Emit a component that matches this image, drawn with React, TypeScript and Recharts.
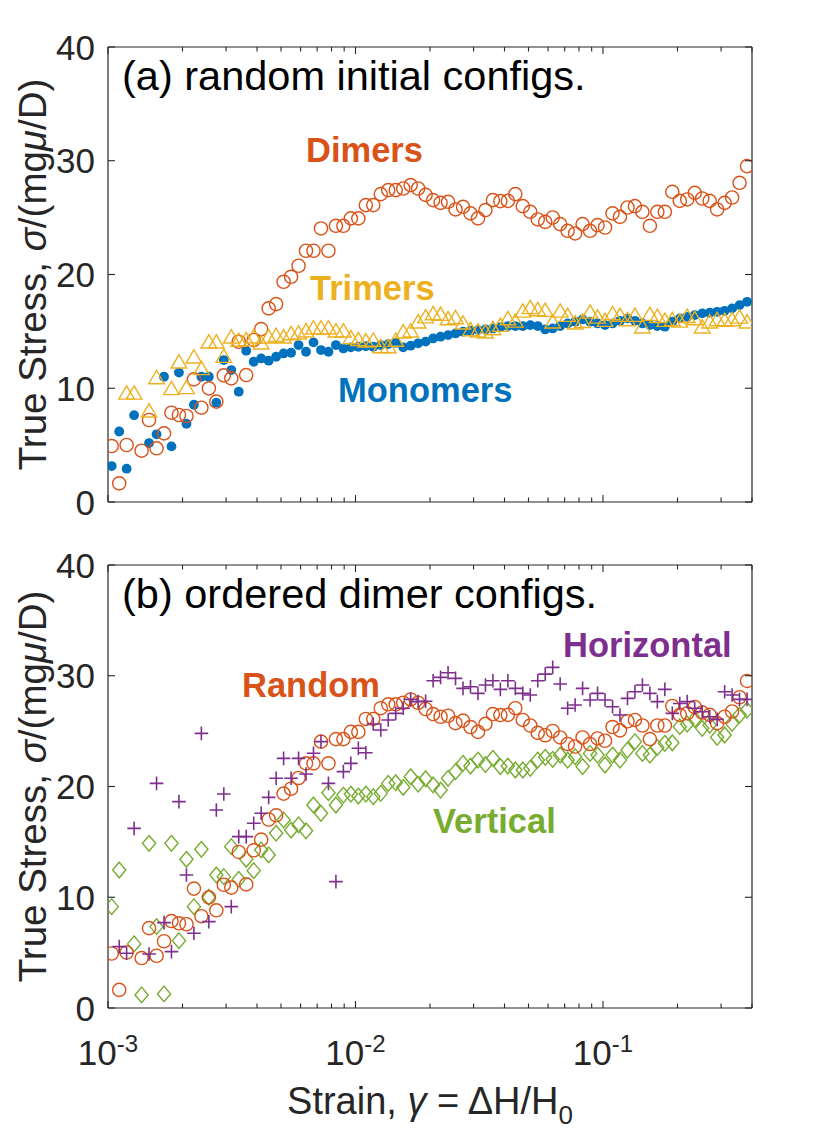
import React from 'react';
import { ScatterChart, Scatter, XAxis, YAxis } from 'recharts';

// strain values (shared sampling grid)
const STRAIN = [
  0.001035, 0.001110, 0.001189, 0.001275, 0.001367, 0.001465, 0.001571, 0.001684, 0.001805, 0.001935,
  0.002075, 0.002224, 0.002384, 0.002556, 0.002740, 0.002937, 0.003149, 0.003375, 0.003618, 0.003879,
  0.004158, 0.004458, 0.004779, 0.005123, 0.005492, 0.005887, 0.006311, 0.006765, 0.007253, 0.007775,
  0.008335, 0.008935, 0.009578, 0.01027, 0.01101, 0.01180, 0.01265, 0.01356, 0.01454, 0.01559,
  0.01671, 0.01791, 0.01920, 0.02059, 0.02207, 0.02366, 0.02536, 0.02719, 0.02915, 0.03125,
  0.03350, 0.03591, 0.03849, 0.04127, 0.04424, 0.04742, 0.05084, 0.05450, 0.05842, 0.06263,
  0.06714, 0.07197, 0.07716, 0.08271, 0.08867, 0.09506, 0.1019, 0.1093, 0.1171, 0.1256,
  0.1346, 0.1443, 0.1547, 0.1658, 0.1778, 0.1906, 0.2043, 0.2190, 0.2348, 0.2517,
  0.2698, 0.2892, 0.3101, 0.3324, 0.3563, 0.3820,
];

// panel (a) dimers, also the "Random" series of panel (b)
const DIMERS = [
  4.92, 1.64, 5.01, null, 4.51, 7.21, 4.72, 6.03, 7.85, 7.65,
  7.56, 10.78, 8.29, 9.99, 8.82, 11.13, 10.87, 14.09, 11.16, 14.24,
  15.2, 17.02, 17.4, 19.36, 19.8, 20.77, 22.09, 22.09, 24.05, 22.09,
  24.28, 24.28, 24.93, 24.93, 26.1, 26.1, 27.07, 27.42, 27.42, 27.56,
  27.86, 27.56, 27.0, 26.54, 26.3, 26.39, 25.72, 25.95, 25.37, 24.93,
  25.66, 26.54, 26.45, 26.47, 27.07, 26.01, 25.51, 24.84, 24.63, 25.01,
  24.43, 23.84, 23.61, 24.43, 23.84, 24.34, 24.13, 25.37, 25.07, 25.89,
  26.01, 25.51, 24.28, 25.51, 25.51, 27.27, 26.47, 26.6, 27.18, 26.68,
  26.47, 25.72, 26.3, 26.77, 28.06, 29.53,
];

const MONOMERS = [
  3.16, 6.2, 2.93, 7.63, null, 5.18, 5.95, 11.01, 4.89, 11.38,
  6.88, 8.55, 11.01, 11.01, 8.73, 12.48, 11.6, 9.7, 13.3, 12.33,
  12.62, 12.42, 12.77, 13.06, 13.12, 13.8, 13.21, 14.03, 13.36, 13.21,
  13.8, 13.5, 13.6, 13.65, 13.7, 13.65, 13.8, 13.88, 14.0, 13.6,
  13.74, 13.95, 14.1, 14.38, 14.53, 14.67, 14.82, 14.97, 15.06, 15.11,
  15.17, 15.26, 15.35, 15.47, 15.47, 15.47, 15.55, 15.47, 15.17, 15.26,
  15.47, 15.7, 15.85, 16.05, 15.85, 15.7, 15.55, 15.7, 15.93, 16.14,
  15.93, 15.7, 15.55, 15.47, 15.41, 15.85, 16.14, 16.28, 16.43, 16.58,
  16.64, 16.72, 16.81, 17.02, 17.31, 17.6,
];

const TRIMERS = [
  null, null, 9.6, 9.6, null, 8.03, 10.95, null, 9.99, 12.33,
  10.08, 12.77, 11.75, 14.09, 14.09, 12.83, 14.53, 14.24, 14.3, 14.53,
  14.0, 14.53, 14.67, 14.53, 14.82, 14.88, 15.06, 15.32, 15.32, 15.32,
  15.06, 15.06, 14.47, 14.3, 14.18, 14.24, 13.68, 13.68, 14.24, 14.97,
  15.06, 15.85, 16.3, 16.58, 16.52, 16.14, 16.23, 15.76, 15.17, 15.06,
  14.97, 15.26, 15.55, 16.14, 15.93, 16.81, 17.11, 16.93, 16.87, 15.85,
  16.81, 16.43, 15.76, 15.9, 16.72, 16.28, 15.99, 16.58, 16.43, 16.05,
  16.43, 15.41, 16.52, 16.34, 15.99, 16.05, 15.93, 16.34, 16.14, 15.41,
  15.85, 16.05, 15.99, 16.05, 16.28, 15.85,
];

const HORIZONTAL = [
  null, 5.54, 4.94, 16.22, null, 4.88, 20.28, 7.71, 5.09, 18.63,
  12.01, 6.75, 24.8, 7.8, 17.88, 19.32, 9.15, 15.47, 15.47, 16.68,
  17.58, 19.02, 20.74, 22.54, 20.74, 22.54, 21.13, 23.0, 24.05, 20.28,
  11.41, 21.34, 22.09, 23.45, 23.05, 25.64, 25.1, 26.0, 26.6, 27.06,
  27.87, 27.66, 27.7, 29.55, 29.85, 30.27, 29.76, 28.86, 29.01, 28.41,
  29.16, 29.55, 28.77, 29.55, 28.86, 28.41, 28.26, 29.55, 30.15, 30.76,
  29.25, 27.06, 27.36, 28.86, 27.81, 28.41, 27.81, 27.2, 26.45, 27.96,
  28.56, 29.16, 28.41, 27.66, 28.77, 26.6, 27.5, 27.66, 27.06, 26.75,
  26.3, 26.06, 28.56, 28.26, 27.87, 27.87,
];

const VERTICAL = [
  9.15, 12.46, null, 5.79, 1.18, 14.87, 7.35, 1.27, 14.87, 6.08,
  13.43, 9.15, 14.33, 10.0, 12.01, 11.86, 14.57, 11.62, 13.43, 12.4,
  14.27, 13.82, 15.78, 16.98, 16.07, 16.53, 16.0, 18.33, 17.58, 19.44,
  18.33, 19.23, 19.32, 19.14, 19.32, 19.08, 19.38, 20.28, 20.34, 19.93,
  20.88, 20.22, 20.7, 20.14, 19.68, 20.74, 21.34, 22.09, 21.85, 22.39,
  21.98, 22.54, 21.8, 21.85, 21.49, 21.49, 21.64, 22.39, 22.63, 22.45,
  22.84, 22.39, 22.69, 21.8, 22.99, 22.84, 21.94, 22.84, 22.39, 23.29,
  24.05, 22.99, 22.84, 23.53, 23.9, 23.95, 25.4, 25.64, 26.06, 25.25,
  25.54, 24.44, 24.65, 25.7, 26.45, 26.9,
];

const X_DOMAIN = [0.001, 0.4];
const X_TICKS = [
  0.001, 0.002, 0.003, 0.004, 0.005, 0.006, 0.007, 0.008, 0.009,
  0.01, 0.02, 0.03, 0.04, 0.05, 0.06, 0.07, 0.08, 0.09,
  0.1, 0.2, 0.3, 0.4,
];
const X_MAJOR = [0.001, 0.01, 0.1];
const X_MAJOR_EXP = ['-3', '-2', '-1'];
const Y_TICKS = [0, 10, 20, 30, 40];

const FONT = '"Liberation Sans", Arial, Helvetica, sans-serif';
const AX = '#262626';
const BLUE = '#0072BD';
const ORANGE = '#D95319';
const YELLOW = '#EDB120';
const PURPLE = '#7E2F8E';
const GREEN = '#77AC30';

type Pt = { x: number; y: number };
const build = (ys: (number | null)[]): Pt[] =>
  STRAIN.map((x, i) => ({ x, y: ys[i] as number })).filter((d) => d.y !== null && d.y !== undefined);

const dimerData = build(DIMERS);
const monoData = build(MONOMERS);
const triData = build(TRIMERS);
const horData = build(HORIZONTAL);
const verData = build(VERTICAL);

// ---- marker shapes
const openCircle = (color: string) => (p: any) => (
  <circle cx={p.cx} cy={p.cy} r={6.6} fill="none" stroke={color} strokeWidth={1.4} />
);
const dot = (p: any) => <circle cx={p.cx} cy={p.cy} r={4.9} fill={BLUE} />;
const triangle = (p: any) => (
  <path
    d={`M${p.cx},${p.cy - 7} L${p.cx + 7.8},${p.cy + 6.3} L${p.cx - 7.8},${p.cy + 6.3} Z`}
    fill="none"
    stroke={YELLOW}
    strokeWidth={1.4}
  />
);
const plus = (p: any) => (
  <path
    d={`M${p.cx - 6.8},${p.cy} H${p.cx + 6.8} M${p.cx},${p.cy - 6.8} V${p.cy + 6.8}`}
    fill="none"
    stroke={PURPLE}
    strokeWidth={1.6}
  />
);
const diamond = (p: any) => (
  <path
    d={`M${p.cx},${p.cy - 7.8} L${p.cx + 6.6},${p.cy} L${p.cx},${p.cy + 7.8} L${p.cx - 6.6},${p.cy} Z`}
    fill="none"
    stroke={GREEN}
    strokeWidth={1.4}
  />
);

// ---- ticks (drawn inward, like the original)
const bottomTick = (withLabels: boolean) => (props: any) => {
  const { x, y, payload } = props;
  const idx = X_MAJOR.indexOf(payload.value);
  const len = idx >= 0 ? 7 : 4.5;
  return (
    <g>
      <line x1={x} x2={x} y1={y} y2={y - len} stroke={AX} strokeWidth={1.1} />
      {withLabels && idx >= 0 && (
        <text x={x} y={y + 57} textAnchor="middle" fontFamily={FONT} fontSize={35} fill={AX}>
          10
          <tspan dy={-13} fontSize={24}>
            {X_MAJOR_EXP[idx]}
          </tspan>
        </text>
      )}
    </g>
  );
};
const topTick = (props: any) => {
  const { x, y, payload } = props;
  const len = X_MAJOR.indexOf(payload.value) >= 0 ? 7 : 4.5;
  return <line x1={x} x2={x} y1={y} y2={y + len} stroke={AX} strokeWidth={1.1} />;
};
const leftTick = (props: any) => {
  const { x, y, payload } = props;
  return (
    <g>
      <line x1={x} x2={x + 7} y1={y} y2={y} stroke={AX} strokeWidth={1.1} />
      <text x={x - 13} y={y + 12.5} textAnchor="end" fontFamily={FONT} fontSize={35} fill={AX}>
        {payload.value}
      </text>
    </g>
  );
};
const rightTick = (props: any) => {
  const { x, y } = props;
  return <line x1={x} x2={x - 7} y1={y} y2={y} stroke={AX} strokeWidth={1.1} />;
};

const axisLine = { stroke: AX, strokeWidth: 1.2 };

function renderAxes(labels: boolean) {
  return [
    <XAxis
      key="xb"
      xAxisId={0}
      dataKey="x"
      type="number"
      scale="log"
      domain={X_DOMAIN}
      allowDataOverflow
      ticks={X_TICKS}
      interval={0}
      height={1}
      tickSize={0}
      tickMargin={0}
      tickLine={false}
      axisLine={axisLine}
      tick={bottomTick(labels)}
    />,
    <XAxis
      key="xt"
      xAxisId="top"
      orientation="top"
      dataKey="x"
      type="number"
      scale="log"
      domain={X_DOMAIN}
      allowDataOverflow
      ticks={X_TICKS}
      interval={0}
      height={1}
      tickSize={0}
      tickMargin={0}
      tickLine={false}
      axisLine={axisLine}
      tick={topTick}
    />,
    <YAxis
      key="yl"
      yAxisId={0}
      dataKey="y"
      type="number"
      domain={[0, 40]}
      allowDataOverflow
      ticks={Y_TICKS}
      interval={0}
      width={1}
      tickSize={0}
      tickMargin={0}
      tickLine={false}
      axisLine={axisLine}
      tick={leftTick}
    />,
    <YAxis
      key="yr"
      yAxisId="right"
      orientation="right"
      dataKey="y"
      type="number"
      domain={[0, 40]}
      allowDataOverflow
      ticks={Y_TICKS}
      interval={0}
      width={1}
      tickSize={0}
      tickMargin={0}
      tickLine={false}
      axisLine={axisLine}
      tick={rightTick}
    />,
  ];
}

export default function App() {
  return (
    <div
      style={{
        position: 'absolute',
        left: 0,
        top: 0,
        width: 830,
        height: 1144,
        background: '#ffffff',
        overflow: 'hidden',
      }}
    >
      <div style={{ position: 'absolute', left: 0, top: 0 }}>
        <ScatterChart width={830} height={530} margin={{ top: 46, right: 77, bottom: 27, left: 107 }}>
          {renderAxes(false)}
          <Scatter data={monoData} isAnimationActive={false} shape={dot} />
          <Scatter data={dimerData} isAnimationActive={false} shape={openCircle(ORANGE)} />
          <Scatter data={triData} isAnimationActive={false} shape={triangle} />
        </ScatterChart>
      </div>
      <div style={{ position: 'absolute', left: 0, top: 530 }}>
        <ScatterChart width={830} height={614} margin={{ top: 34, right: 77, bottom: 135, left: 107 }}>
          {renderAxes(true)}
          <Scatter data={verData} isAnimationActive={false} shape={diamond} />
          <Scatter data={dimerData} isAnimationActive={false} shape={openCircle(ORANGE)} />
          <Scatter data={horData} isAnimationActive={false} shape={plus} />
        </ScatterChart>
      </div>
      <svg
        width={830}
        height={1144}
        style={{ position: 'absolute', left: 0, top: 0, pointerEvents: 'none' }}
        fontFamily={FONT}
      >
        <text x={122} y={90} fontSize={41.5} fill="#000">
          (a) random initial configs.
        </text>
        <text x={122} y={608} fontSize={41.5} fill="#000">
          (b) ordered dimer configs.
        </text>

        <text x={306} y={162} fontSize={34.5} fontWeight="bold" fill={ORANGE}>Dimers</text>
        <text x={310} y={300} fontSize={34.5} fontWeight="bold" fill={YELLOW}>Trimers</text>
        <text x={338} y={402} fontSize={34.5} fontWeight="bold" fill={BLUE}>Monomers</text>

        <text x={242} y={697} fontSize={34.5} fontWeight="bold" fill={ORANGE}>Random</text>
        <text x={563} y={657} fontSize={34.5} fontWeight="bold" fill={PURPLE}>Horizontal</text>
        <text x={433} y={833} fontSize={34.5} fontWeight="bold" fill={GREEN}>Vertical</text>

        <text transform="translate(46,274.5) rotate(-90)" textAnchor="middle" fontSize={38.5} fill={AX}>
          True Stress, <tspan fontStyle="italic">σ</tspan>/(mg<tspan fontStyle="italic">μ</tspan>/D)
        </text>
        <text transform="translate(46,786.5) rotate(-90)" textAnchor="middle" fontSize={38.5} fill={AX}>
          True Stress, <tspan fontStyle="italic">σ</tspan>/(mg<tspan fontStyle="italic">μ</tspan>/D)
        </text>

        <text x={430} y={1114} textAnchor="middle" fontSize={38} fill={AX}>
          Strain, <tspan fontStyle="italic">γ</tspan> = ΔH/H<tspan dy={10} fontSize={26}>0</tspan>
        </text>
      </svg>
    </div>
  );
}
